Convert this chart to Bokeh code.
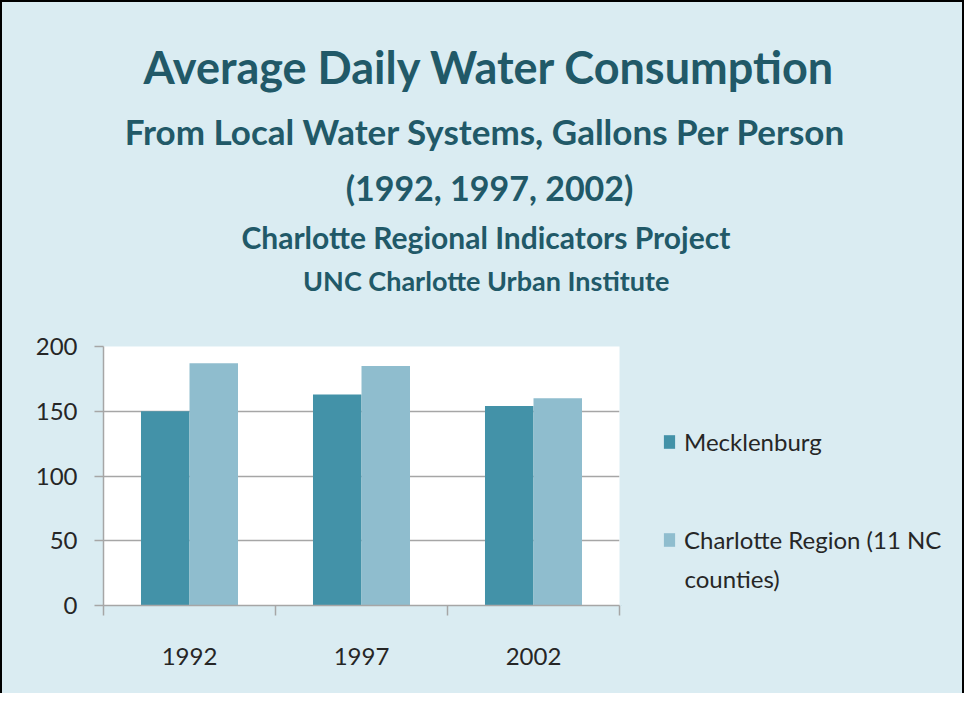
from bokeh.plotting import figure
from bokeh.layouts import column, row
from bokeh.models import FixedTicker, Label, Legend, LegendItem, ColumnDataSource, Range1d
from bokeh.transform import dodge
from bokeh.embed import file_html
from bokeh.resources import INLINE

# ---------------- data ----------------
years = ["1992", "1997", "2002"]
mecklenburg = [150, 163, 154]
charlotte_region = [187, 185, 160]
series_names = ["Mecklenburg", "Charlotte Region (11 NC", "counties)"]
y_ticks = [0, 50, 100, 150, 200]
title_lines = [
    "Average Daily Water Consumption",
    "From Local  Water Systems, Gallons Per Person",
    "(1992, 1997, 2002)",
    "Charlotte Regional  Indicators Project",
    "UNC Charlotte  Urban Institute",
]

# ---------------- styles ----------------
BG = "#DAECF2"
C_MECK = "#4392A8"
C_REG = "#8FBDCE"
TITLE_C = "#215968"
TEXT_C = "#262626"
GRID_C = "#A6A6A6"
FONT = "Lato"
BASE_SHIFT = 0.44   # empirical alphabetic-baseline correction (x font size)

CW = 960          # content width
TOP_H = 310       # title band height
CH_W = 619        # chart figure width
CH_H = 691 - TOP_H  # chart + legend band height
LG_W = CW - CH_W
FRAME_BOTTOM = 605  # reference pixel row of the chart's zero line


def blank_fig(w, h):
    f = figure(width=w, height=h, output_backend="svg", toolbar_location=None,
               x_range=Range1d(0, w), y_range=Range1d(0, h), title=None,
               x_axis_location=None, y_axis_location=None)
    f.min_border = 0
    f.border_fill_color = BG
    f.background_fill_color = BG
    f.outline_line_color = None
    f.grid.visible = False
    return f


# ---------------- title band ----------------
pt = blank_fig(CW, TOP_H)
title_sizes = [45, 35, 34, 30, 27]
title_base = [86, 146, 202, 250, 292]  # baselines, reference pixel rows
for t, s, b in zip(title_lines, title_sizes, title_base):
    pt.add_layout(Label(x=489 - 2, y=TOP_H - (b - 2) + BASE_SHIFT * s,
                        x_units="screen", y_units="screen",
                        text=t, text_align="center", text_baseline="alphabetic",
                        text_font=FONT, text_font_style="bold",
                        text_font_size=f"{s}px", text_color=TITLE_C))

# ---------------- chart ----------------
p = figure(width=CH_W, height=CH_H, output_backend="svg", toolbar_location=None,
           x_range=Range1d(0, len(years)), y_range=Range1d(0, 200), title=None)
p.min_border_left = 101
p.min_border_right = 2
p.min_border_top = 344 - TOP_H
p.min_border_bottom = CH_H - (344 - TOP_H) - 259
p.border_fill_color = BG
p.background_fill_color = "white"
p.outline_line_color = None

xs = [i + 0.5 for i in range(len(years))]
src = ColumnDataSource(dict(x=xs, year=years, meck=mecklenburg, reg=charlotte_region))
p.vbar(x=dodge("x", -0.141, range=p.x_range), top="meck", width=0.282, bottom=0,
       source=src, fill_color=C_MECK, line_color=None)
p.vbar(x=dodge("x", 0.141, range=p.x_range), top="reg", width=0.282, bottom=0,
       source=src, fill_color=C_REG, line_color=None)

xa = p.xaxis[0]
xa.ticker = FixedTicker(ticks=xs, minor_ticks=list(range(len(years) + 1)))
xa.major_label_overrides = {x: y for x, y in zip(xs, years)}
xa.major_tick_out = 0
xa.major_tick_in = 0
xa.minor_tick_out = 10
xa.minor_tick_in = 0
xa.minor_tick_line_color = GRID_C
xa.minor_tick_line_width = 1.5
xa.axis_line_color = GRID_C
xa.axis_line_width = 1.5
xa.major_label_standoff = 32
xa.major_label_text_font = FONT
xa.major_label_text_font_size = "24px"
xa.major_label_text_color = TEXT_C

ya = p.yaxis[0]
ya.ticker = FixedTicker(ticks=y_ticks, minor_ticks=[])
ya.major_tick_out = 9
ya.major_tick_in = 0
ya.major_tick_line_color = GRID_C
ya.major_tick_line_width = 1.5
ya.axis_line_color = GRID_C
ya.axis_line_width = 1.5
ya.major_label_standoff = 17
ya.major_label_text_font = FONT
ya.major_label_text_font_size = "24px"
ya.major_label_text_color = TEXT_C

p.xgrid.grid_line_color = None
p.ygrid.ticker = FixedTicker(ticks=y_ticks)
p.ygrid.grid_line_color = GRID_C
p.ygrid.grid_line_width = 1.5
p.ygrid.level = "underlay"

# ---------------- legend panel (frame aligned with the chart frame) ----------------
pl = blank_fig(LG_W, CH_H)
# off-canvas swatch renderers (legend glyphs only)
sw1 = pl.vbar(x=[-10], top=[-10], bottom=[-11], width=1, fill_color=C_MECK, line_color=None)
sw2 = pl.vbar(x=[-10], top=[-10], bottom=[-11], width=1, fill_color=C_REG, line_color=None)


def add_legend(label, renderer, bottom_ref_y):
    lg = Legend(items=[LegendItem(label=label, renderers=[renderer])],
                location=(660 - CH_W, FRAME_BOTTOM - bottom_ref_y),
                glyph_width=14, glyph_height=17, label_height=17, label_standoff=8,
                padding=0, margin=0, border_line_color=None, background_fill_alpha=0,
                label_text_font=FONT, label_text_font_size="24px",
                label_text_color=TEXT_C)
    pl.add_layout(lg)


add_legend(series_names[0], sw1, 456)
add_legend(series_names[1], sw2, 554)
pl.add_layout(Label(x=682 - CH_W, y=FRAME_BOTTOM - 589 + BASE_SHIFT * 24,
                    x_units="screen", y_units="screen",
                    text=series_names[2], text_align="left", text_baseline="alphabetic",
                    text_font=FONT, text_font_size="24px", text_color=TEXT_C))

inner = row(p, pl)
inner.styles = {"background-color": BG}
layout = column(pt, inner)
layout.styles = {"border-top": "2px solid black", "border-left": "2px solid black",
                 "border-right": "2px solid black", "background-color": BG}

open("out.html", "w").write(file_html(layout, INLINE))
